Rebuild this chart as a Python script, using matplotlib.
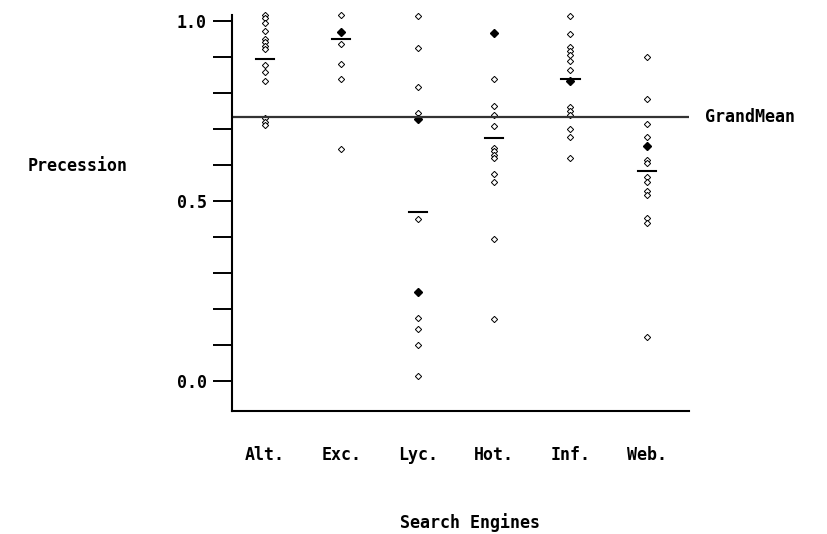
import matplotlib.pyplot as plt

# search engines on the x axis
engines = ["Alt.", "Exc.", "Lyc.", "Hot.", "Inf.", "Web."]

# precision values per engine (hollow diamonds)
alt = [1.017, 1.008, 0.995, 0.972, 0.949, 0.940, 0.931, 0.921, 0.878, 0.859, 0.833, 0.730, 0.720, 0.711]
exc = [1.017, 0.935, 0.880, 0.839, 0.644]
lyc = [1.014, 0.924, 0.815, 0.745, 0.449, 0.175, 0.144, 0.099, 0.014]
hot = [0.839, 0.764, 0.739, 0.708, 0.646, 0.637, 0.628, 0.620, 0.575, 0.553, 0.394, 0.173]
inf = [1.014, 0.963, 0.926, 0.915, 0.905, 0.889, 0.864, 0.760, 0.748, 0.739, 0.699, 0.676, 0.618]
web = [0.898, 0.783, 0.713, 0.678, 0.614, 0.604, 0.567, 0.553, 0.527, 0.516, 0.453, 0.439, 0.122]
values = [alt, exc, lyc, hot, inf, web]

# repeated values (drawn filled)
rep_x = [2, 3, 3, 4, 5, 6]
rep_y = [0.970, 0.727, 0.246, 0.966, 0.833, 0.651]

# engine means and the grand mean
means = [0.894, 0.949, 0.470, 0.674, 0.838, 0.583]
grand_mean = 0.734

font = {"family": "DejaVu Sans Mono", "weight": "bold", "size": 12}

fig = plt.figure(figsize=(8.27, 5.34), dpi=100)
ax = fig.add_axes([0.280, 0.230, 0.553, 0.742])

for i, vals in enumerate(values):
    ax.plot([i + 1] * len(vals), vals, linestyle="none", marker="D", markersize=3.2,
            markerfacecolor="white", markeredgecolor="black", markeredgewidth=0.7, clip_on=False)
    ax.plot([i + 1 - 0.12, i + 1 + 0.12], [means[i]] * 2, color="black", linewidth=1.5)

ax.plot(rep_x, rep_y, linestyle="none", marker="D", markersize=4.2, color="black", clip_on=False)

ax.axhline(grand_mean, color="#333333", linewidth=1.6)
ax.text(6.76, grand_mean, "GrandMean", va="center", ha="left", clip_on=False, **font)

ax.set_xlim(0.564, 6.55)
ax.set_ylim(-0.084, 1.016)
ax.spines["top"].set_visible(False)
ax.spines["right"].set_visible(False)
ax.spines["left"].set_linewidth(1.5)
ax.spines["bottom"].set_linewidth(1.5)

ax.set_yticks([0.0, 0.5, 1.0])
ax.set_yticklabels(["0.0", "0.5", "1.0"], **font)
ax.set_yticks([0.1, 0.2, 0.3, 0.4, 0.6, 0.7, 0.8, 0.9], minor=True)
ax.tick_params(axis="y", which="both", length=14, width=1.4, pad=4)

ax.set_xticks(range(1, 7))
ax.set_xticklabels(engines, **font)
ax.tick_params(axis="x", length=0, pad=25)

ax.set_ylabel("Precession", rotation=0, ha="center", va="center", **font)
ax.yaxis.set_label_coords(-0.337, 0.619)
ax.set_xlabel("Search Engines", va="center", **font)
ax.xaxis.set_label_coords(0.521, -0.28)

plt.savefig("out.png", dpi=100)
